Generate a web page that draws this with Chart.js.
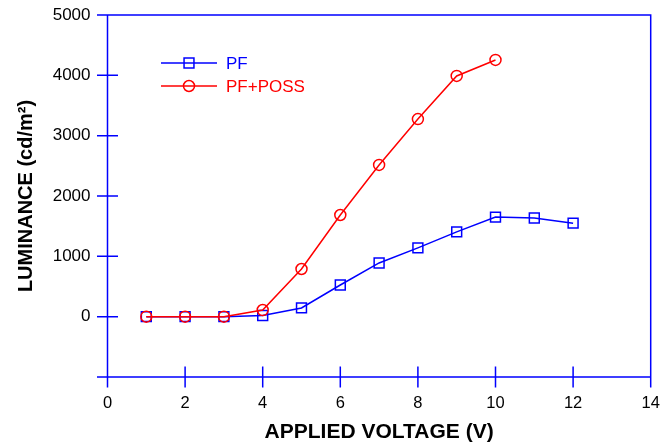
<!DOCTYPE html>
<html>
<head>
<meta charset="utf-8">
<script src="https://cdn.jsdelivr.net/npm/chart.js@4/dist/chart.umd.min.js"></script>
<style>
  html, body { margin: 0; padding: 0; background: #fff; }
  #lum { display: block; }
</style>
</head>
<body>
<canvas id="lum" width="672" height="445"></canvas>
<script>
// ---- data ----
const voltage  = [1, 2, 3, 4, 5, 6, 7, 8, 9, 10, 11, 12];
const pfLum    = [0, 0, 0, 20, 145, 525, 890, 1140, 1405, 1650, 1635, 1550];
const possLum  = [0, 0, 0, 110, 790, 1685, 2515, 3275, 3990, 4255];
const xTicks   = [0, 2, 4, 6, 8, 10, 12, 14];
const yTicks   = [-1000, 0, 1000, 2000, 3000, 4000, 5000];

const BLUE = '#0000ff';
const RED  = '#ff0000';
const FONT = "Arial, 'Liberation Sans', sans-serif";

const pts = (ys) => ys.map((y, i) => ({ x: voltage[i], y }));

// frame + ticks that cross the axis line (old Origin style)
const frameTicks = {
  id: 'frameTicks',
  afterDatasetsDraw(chart) {
    const { ctx, chartArea: a, scales: { x, y } } = chart;
    const t = 10.5;
    ctx.save();
    ctx.strokeStyle = BLUE;
    ctx.lineWidth = 1.5;
    ctx.beginPath();
    ctx.rect(a.left, a.top, a.right - a.left, a.bottom - a.top);
    xTicks.forEach(v => {
      const px = x.getPixelForValue(v);
      ctx.moveTo(px, a.bottom - t);
      ctx.lineTo(px, a.bottom + t);
    });
    yTicks.forEach(v => {
      const py = y.getPixelForValue(v);
      ctx.moveTo(a.left - t, py);
      ctx.lineTo(a.left + t, py);
    });
    ctx.stroke();
    ctx.restore();
  }
};

// legend: line with hollow marker through it, coloured label
const lineLegend = {
  id: 'lineLegend',
  afterDraw(chart) {
    const { ctx } = chart;
    const x0 = 161, x1 = 217, tx = 226;
    const rows = [{ ds: 0, y: 63 }, { ds: 1, y: 86 }];
    ctx.save();
    rows.forEach(r => {
      const d = chart.data.datasets[r.ds];
      ctx.strokeStyle = d.borderColor;
      ctx.lineWidth = 1.5;
      ctx.beginPath();
      ctx.moveTo(x0, r.y);
      ctx.lineTo(x1, r.y);
      ctx.stroke();
      ctx.fillStyle = 'rgba(0,0,0,0)';
      Chart.helpers.drawPoint(ctx, {
        pointStyle: d.pointStyle,
        radius: d.pointRadius,
        borderWidth: 1.5,
        rotation: 0
      }, (x0 + x1) / 2, r.y);
      ctx.fillStyle = d.borderColor;
      ctx.font = '17px ' + FONT;
      ctx.textBaseline = 'middle';
      ctx.fillText(d.label, tx, r.y + 1);
    });
    ctx.restore();
  }
};

function series(label, data, color, style, radius, order) {
  return {
    label,
    data,
    order,
    showLine: true,
    borderColor: color,
    borderWidth: 1.5,
    pointStyle: style,
    pointRadius: radius,
    pointHoverRadius: radius,
    pointBorderColor: color,
    pointBorderWidth: 1.5,
    pointBackgroundColor: 'rgba(0,0,0,0)',
    tension: 0
  };
}

new Chart(document.getElementById('lum'), {
  type: 'scatter',
  data: {
    datasets: [
      series('PF', pts(pfLum), BLUE, 'rect', 7, 2),
      series('PF+POSS', pts(possLum), RED, 'circle', 5.5, 1)
    ]
  },
  options: {
    responsive: false,
    animation: false,
    layout: { padding: { left: 0, top: 15, right: 21.3, bottom: 0 } },
    plugins: { legend: { display: false }, tooltip: { enabled: false } },
    scales: {
      x: {
        type: 'linear',
        min: 0, max: 14,
        afterFit: s => { s.height = 68; s.paddingLeft = 0; s.paddingRight = 0; },
        afterBuildTicks: s => { s.ticks = xTicks.map(v => ({ value: v })); },
        grid: { display: false, drawTicks: false },
        border: { display: false },
        ticks: { padding: 17, color: '#000', font: { size: 16.5, family: FONT } },
        title: {
          display: true,
          text: 'APPLIED VOLTAGE (V)',
          color: '#000',
          font: { size: 21, weight: 'bold', family: FONT },
          padding: { top: 0, bottom: 0 }
        }
      },
      y: {
        type: 'linear',
        min: -1000, max: 5000,
        afterFit: s => { s.width = 107.5; s.paddingTop = 0; s.paddingBottom = 0; },
        afterBuildTicks: s => { s.ticks = yTicks.map(v => ({ value: v })); },
        grid: { display: false, drawTicks: false },
        border: { display: false },
        ticks: {
          padding: 17,
          color: '#000',
          font: { size: 17, family: FONT },
          callback: v => (v < 0 ? '' : String(v))
        },
        title: {
          display: true,
          text: 'LUMINANCE (cd/m²)',
          color: '#000',
          font: { size: 20, weight: 'bold', family: FONT },
          padding: { top: 14, bottom: 0 }
        }
      }
    }
  },
  plugins: [frameTicks, lineLegend]
});
</script>
</body>
</html>
